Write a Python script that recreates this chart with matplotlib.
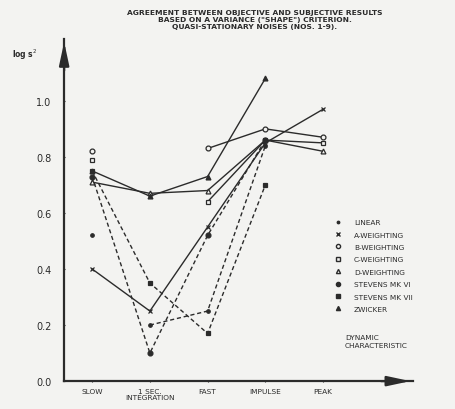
import matplotlib.pyplot as plt
import numpy as np
from matplotlib.lines import Line2D

nan = np.nan

# data
categories = ['SLOW', '1 SEC.\nINTEGRATION', 'FAST', 'IMPULSE', 'PEAK']
linear = [0.52, 0.20, 0.25, 0.84, nan]
a_weight = [0.40, 0.25, 0.55, 0.85, 0.97]
b_weight = [0.82, nan, 0.83, 0.90, 0.87]
c_weight = [0.79, nan, 0.64, 0.86, 0.85]
d_weight = [0.71, 0.67, 0.68, 0.86, 0.82]
stevens6 = [0.73, 0.10, 0.52, 0.86, nan]
stevens7 = [0.75, 0.35, 0.17, 0.70, nan]
zwicker = [0.75, 0.66, 0.73, 1.08, nan]
yticks = [0.0, 0.2, 0.4, 0.6, 0.8, 1.0]

ink = '#2b2b2b'
bg = '#f3f3f1'

fig = plt.figure(figsize=(4.55, 4.10), dpi=100, facecolor=bg)
ax = fig.add_axes([0.141, 0.068, 0.767, 0.834])
ax.set_facecolor(bg)
x = np.arange(len(categories))

def draw(vals, marker, ls, fill, start=0):
    v = np.array(vals, dtype=float)
    ax.plot(x[start:], v[start:], ls=ls, color=ink, lw=1.0)
    ax.plot(x, v, ls='none', marker=marker, ms=3.5 if marker != '.' else 5,
            mfc=ink if fill else bg, mec=ink, mew=0.9)

draw(linear, '.', (0, (3, 2)), True, start=1)
draw(a_weight, 'x', '-', True)
draw(b_weight, 'o', '-', False)
draw(c_weight, 's', '-', False)
draw(d_weight, '^', '-', False)
draw(stevens6, 'o', (0, (3, 2)), True)
draw(stevens7, 's', (0, (3, 2)), True)
draw(zwicker, '^', '-', True)

ax.set_xlim(-0.485, 5.56)
ax.set_ylim(0, 1.22)
for s in ['top', 'right']:
    ax.spines[s].set_visible(False)
for s in ['left', 'bottom']:
    ax.spines[s].set_color(ink)
    ax.spines[s].set_linewidth(1.6)
ax.annotate('', xy=(0, 1.0), xytext=(0, 0.9), xycoords='axes fraction',
            arrowprops=dict(arrowstyle='-|>,head_width=0.3,head_length=1.4',
                            color=ink, lw=1.6))
ax.annotate('', xy=(1.0, 0), xytext=(0.9, 0), xycoords='axes fraction',
            arrowprops=dict(arrowstyle='-|>,head_width=0.3,head_length=1.4',
                            color=ink, lw=1.6))

ax.set_yticks(yticks)
ax.set_yticklabels(['%.1f' % t for t in yticks], fontsize=7, color=ink)
ax.set_xticks(x)
ax.set_xticklabels(categories, fontsize=5.3, color=ink, linespacing=1.0)
ax.tick_params(axis='both', length=2, width=0.8, color=ink, direction='inout')
ax.tick_params(axis='y', pad=8)
ax.tick_params(axis='x', pad=4)

fig.text(0.026, 0.858, 'log s$^2$', fontsize=5.5, color=ink, fontweight='bold')

title = ('AGREEMENT BETWEEN OBJECTIVE AND SUBJECTIVE RESULTS\n'
         'BASED ON A VARIANCE ("SHAPE") CRITERION.\n'
         'QUASI-STATIONARY NOISES (NOS. 1-9).')
fig.text(0.56, 0.975, title, ha='center', va='top', fontsize=5.4,
         color=ink, fontweight='bold', linespacing=1.2)

ax.text(0.805, 0.10, 'DYNAMIC\nCHARACTERISTIC', transform=ax.transAxes,
        fontsize=5.3, color=ink, linespacing=1.3)

handles = [
    Line2D([], [], ls='none', marker='.', ms=3.5, color=ink),
    Line2D([], [], ls='none', marker='x', ms=3, color=ink),
    Line2D([], [], ls='none', marker='o', ms=3, mfc=bg, mec=ink),
    Line2D([], [], ls='none', marker='s', ms=3, mfc=bg, mec=ink),
    Line2D([], [], ls='none', marker='^', ms=3, mfc=bg, mec=ink),
    Line2D([], [], ls='none', marker='o', ms=3, color=ink),
    Line2D([], [], ls='none', marker='s', ms=3, color=ink),
    Line2D([], [], ls='none', marker='^', ms=3, color=ink),
]
labels = ['LINEAR', 'A-WEIGHTING', 'B-WEIGHTING', 'C-WEIGHTING', 'D-WEIGHTING',
          'STEVENS MK VI', 'STEVENS MK VII', 'ZWICKER']
leg = ax.legend(handles, labels, loc='upper left', bbox_to_anchor=(0.765, 0.485),
                frameon=False, fontsize=5.3, handlelength=1.0, handletextpad=1.6,
                labelspacing=0.85, borderpad=0)
for t in leg.get_texts():
    t.set_color(ink)

fig.savefig('out.png', dpi=100, facecolor=bg)
